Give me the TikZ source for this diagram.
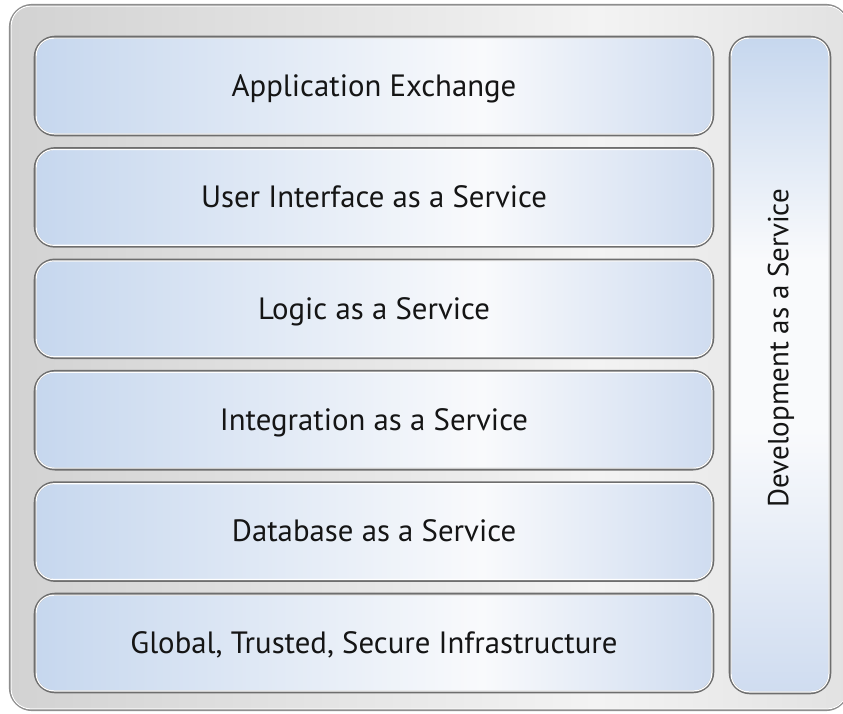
\documentclass[tikz,border=0pt]{standalone}
\usepackage{fontspec}
\setmainfont{PT Sans}
\definecolor{lbA}{HTML}{C6D7EE}
\definecolor{lbW}{HTML}{F9FAFC}
\definecolor{lbB}{HTML}{CFDCF0}
\definecolor{grA}{HTML}{D2D2D2}
\definecolor{grW}{HTML}{F3F3F3}
\definecolor{grB}{HTML}{E2E2E2}
\definecolor{edgecol}{HTML}{6E6E6E}
\definecolor{oedgecol}{HTML}{8E8E8E}
\definecolor{txtcol}{HTML}{151515}
\pgfdeclarehorizontalshading{layershade}{100bp}{color(0bp)=(lbA); color(25bp)=(lbA); color(58bp)=(lbW); color(75bp)=(lbB); color(100bp)=(lbB)}
\pgfdeclareverticalshading{colshade}{100bp}{color(0bp)=(lbB); color(25bp)=(lbB); color(45bp)=(lbW); color(58bp)=(lbW); color(75bp)=(lbA); color(100bp)=(lbA)}
\pgfdeclarehorizontalshading{outershade}{100bp}{color(0bp)=(grA); color(25bp)=(grA); color(60bp)=(grW); color(75bp)=(grB); color(100bp)=(grB)}
\tikzset{
  outerbox/.style={draw=oedgecol, line width=2.2pt, rounded corners=22pt, shading=outershade,
    minimum width=838pt, minimum height=705pt, inner sep=0pt},
  layer/.style={draw=edgecol, line width=2.6pt, rounded corners=20pt, shading=layershade,
    minimum width=678pt, minimum height=98pt, inner sep=0pt,
    text=txtcol, font=\fontsize{30.8}{34}\selectfont, text height=20.5pt, text depth=0pt},
  column/.style={draw=edgecol, line width=2.6pt, rounded corners=20pt, shading=colshade,
    minimum width=100pt, minimum height=656pt, inner sep=0pt},
  vlabel/.style={text=txtcol, font=\fontsize{29}{32}\selectfont, rotate=90, inner sep=0pt},
  highlight/.style={draw=white, line width=1.2pt, rounded corners=18pt}
}
\begin{document}
\begin{tikzpicture}[x=1pt, y=-1pt]
\useasboundingbox (0,0) rectangle (843,713);
\fill[white] (0,0) rectangle (843,713);
\clip (0,0) rectangle (843,713);
\node[outerbox] (frame) at (429,357.5) {};
\draw[white, line width=1pt, rounded corners=20pt]
  ([shift={(2.2pt,-2.2pt)}]frame.north west) rectangle ([shift={(-2.2pt,2.2pt)}]frame.south east);
\node[layer] (app) at (374,86) {Application Exchange};
\node[layer] (ui)  at (374,197.4) {User Interface as a Service};
\node[layer] (logic) at (374,308.8) {Logic as a Service};
\node[layer] (integ) at (374,420.2) {Integration as a Service};
\node[layer] (db) at (374,531.6) {Database as a Service};
\node[layer] (infra) at (374,643) {Global, Trusted, Secure Infrastructure};
\node[column] (dev) at (780,365) {};
\node[vlabel] (devtxt) at (781,348) {Development as a Service};
\foreach \b in {app,ui,logic,integ,db,infra,dev}{
  \draw[highlight] ([shift={(2.4pt,-2.4pt)}]\b.north west) rectangle ([shift={(-2.4pt,2.4pt)}]\b.south east);
}
\end{tikzpicture}
\end{document}
